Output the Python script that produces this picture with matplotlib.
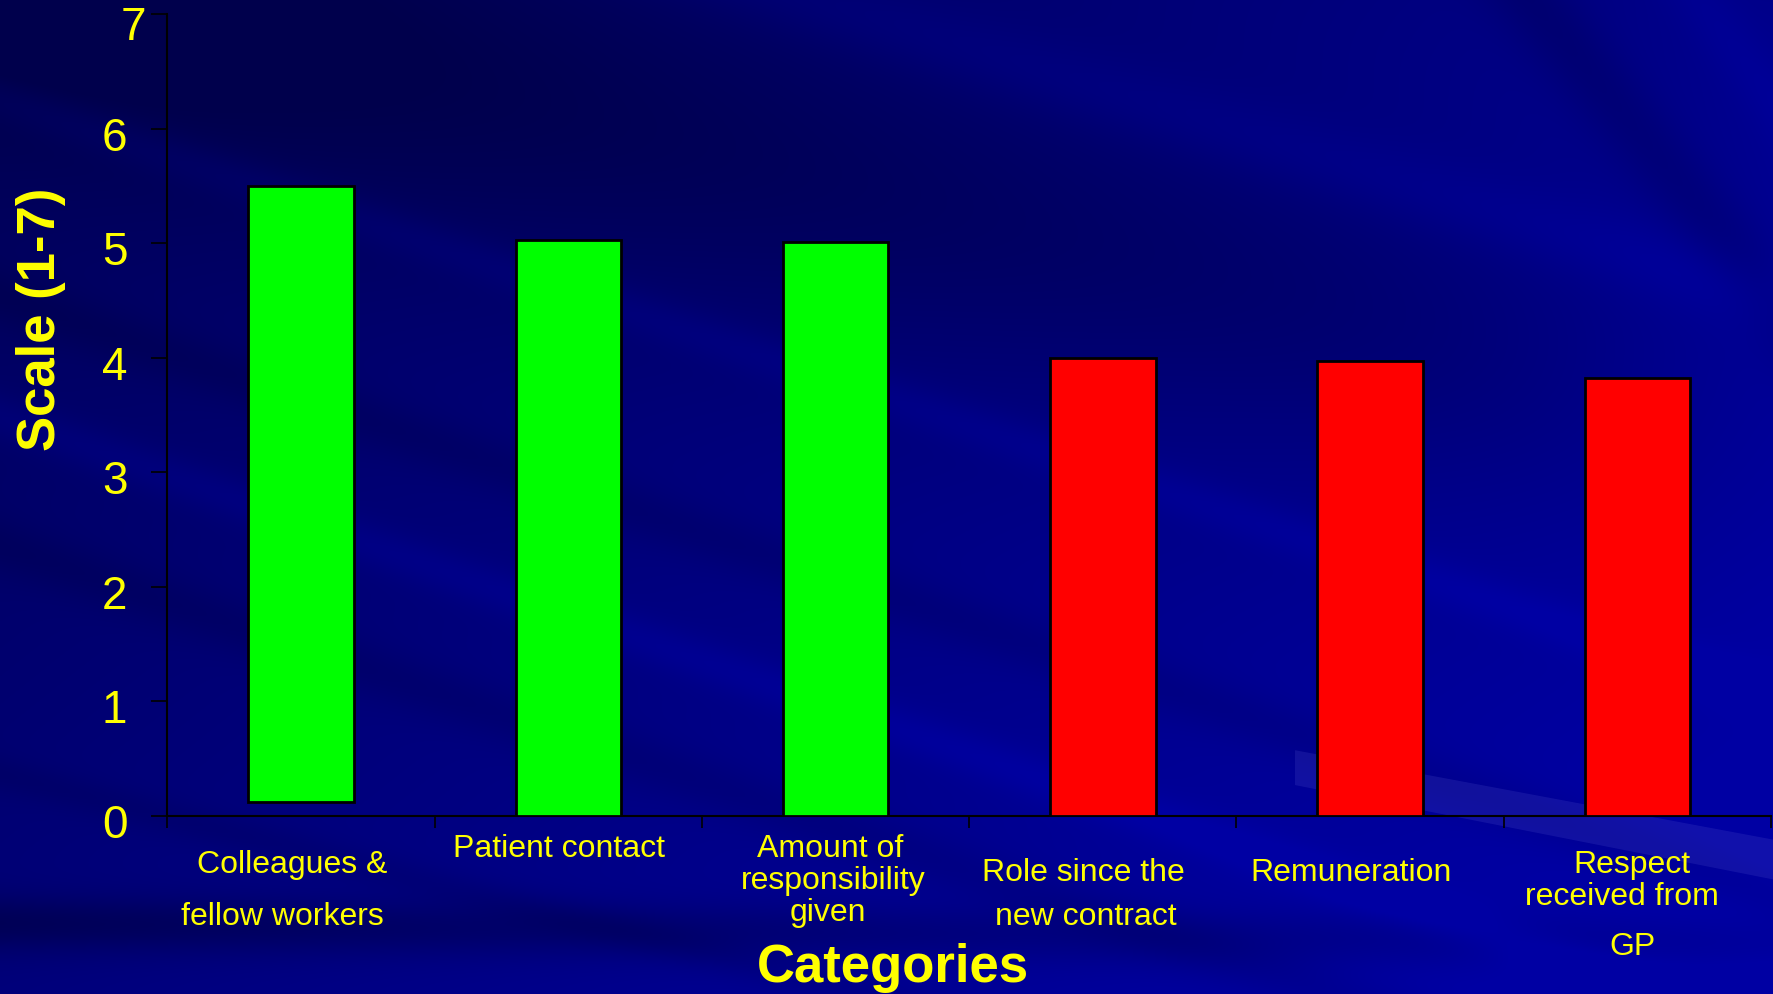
import numpy as np
import matplotlib
matplotlib.use("Agg")
import matplotlib.pyplot as plt
from matplotlib.patches import Polygon
from matplotlib.transforms import ScaledTranslation

# ---- data -------------------------------------------------------------
categories = [
    "Colleagues &\nfellow workers",
    "Patient contact",
    "Amount of\nresponsibility\ngiven",
    "Role since the\nnew contract",
    "Remuneration",
    "Respect\nreceived from\nGP",
]
bar_tops = [5.50, 5.03, 5.01, 4.00, 3.97, 3.82]
bar_bases = [0.12, 0.0, 0.0, 0.0, 0.0, 0.0]
bar_colors = ["#00ff00", "#00ff00", "#00ff00", "#ff0000", "#ff0000", "#ff0000"]
y_ticks = [0, 1, 2, 3, 4, 5, 6, 7]

# ---- layout -----------------------------------------------------------
W, H, DPI = 1774, 995, 100
YELLOW = "#ffff00"
FONT = ["Liberation Sans", "DejaVu Sans"]
PX2PT = 72.0 / DPI

# per-line (dx, dy) pixel offsets of category labels below the x axis
label_line_offsets = [
    [(-9, 48), (-19, 100)],
    [(-9, 32)],
    [(-5, 32), (-2, 64), (-8, 96)],
    [(-19, 56), (-17, 100)],
    [(-19, 56)],
    [(-5, 48), (-15, 80), (-5, 130)],
]

fig = plt.figure(figsize=(W / DPI, H / DPI), dpi=DPI)

# ---- blue slide background ---------------------------------------------
bg = fig.add_axes([0, 0, 1, 1], zorder=-10)
ny, nx = 500, 880
v, u = np.mgrid[0:1:ny * 1j, 0:1:nx * 1j]
blue = 0.34 + 0.20 * u + 0.14 * v
# dark sweep across the upper middle, fading out to the right
fade = 1.0 / (1.0 + np.exp((u - 0.9) / 0.05))
blue -= 0.10 * np.exp(-((v - 0.45 * u + 0.02) / 0.16) ** 2) * fade
# diagonal streaks (lighter and darker bands)
for a, slope, s, amp in [(0.10, 0.60, 0.025, 0.05), (0.30, 0.60, 0.03, -0.05),
                         (0.42, 0.62, 0.025, 0.06), (0.55, 0.60, 0.03, -0.05),
                         (-0.25, 0.55, 0.04, 0.05), (0.78, 0.45, 0.02, -0.04),
                         (-1.9, 2.2, 0.06, -0.07), (-2.3, 2.4, 0.05, 0.04)]:
    blue += amp * np.exp(-((v - slope * u - a) / s) ** 2)
# darker band near the bottom edge
blue -= 0.13 * np.exp(-((v - 0.93 - 0.02 * u) / 0.028) ** 2) * (1.0 - 0.6 * u)
blue = np.clip(blue, 0.30, 0.64)
img = np.dstack([np.zeros_like(blue), np.zeros_like(blue), blue])
bg.imshow(img, aspect="auto", extent=[0, 1, 0, 1], origin="upper", interpolation="bilinear")
# pale streak in the lower right
bg.add_patch(Polygon([[0.73, 1 - 0.755], [1.0, 1 - 0.845], [1.0, 1 - 0.885], [0.73, 1 - 0.79]],
                     closed=True, facecolor="#5a5ad0", alpha=0.20, lw=0))
bg.set_xlim(0, 1)
bg.set_ylim(0, 1)
bg.axis("off")

# ---- chart axes ----------------------------------------------------------
x0, x1 = 167.5, 1771.0
y0, y1 = 817.0, 15.0
ax = fig.add_axes([x0 / W, 1 - y0 / H, (x1 - x0) / W, (y0 - y1) / H])
ax.patch.set_alpha(0)

x = np.arange(len(categories))
heights = [t - b for t, b in zip(bar_tops, bar_bases)]
ax.bar(x, heights, bottom=bar_bases, width=0.395, color=bar_colors,
       edgecolor="black", linewidth=2.0, zorder=3)

ax.set_xlim(-0.5, len(categories) - 0.5)
ax.set_ylim(0, 7)

for side in ("top", "right"):
    ax.spines[side].set_visible(False)
for side in ("left", "bottom"):
    ax.spines[side].set_color("black")
    ax.spines[side].set_linewidth(1.5)

ax.set_yticks(y_ticks)
ax.set_yticklabels([str(t) for t in y_ticks])
ax.tick_params(axis="y", direction="out", length=16 * PX2PT, width=1.2,
               color="black", pad=24 * PX2PT, labelsize=33, labelcolor=YELLOW)
shift_down = ScaledTranslation(0, -4 / DPI, fig.dpi_scale_trans)
top_extra = ScaledTranslation(19 / DPI, -4 / DPI, fig.dpi_scale_trans)
ylabels = ax.get_yticklabels()
for lab in ylabels:
    lab.set_family(FONT)
    lab.set_transform(lab.get_transform() + shift_down)
# the top label sits a little further right and lower
ylabels[-1].set_transform(ylabels[-1].get_transform() + top_extra)

ax.set_xticks(x)
ax.set_xticklabels([])
ax.tick_params(axis="x", which="major", length=0)
ax.set_xticks(np.arange(-0.5, len(categories)), minor=True)
ax.tick_params(axis="x", which="minor", direction="out", length=12 * PX2PT,
               width=1.2, color="black")

# category labels, one text per line
for i, (label, offs) in enumerate(zip(categories, label_line_offsets)):
    for line, (dx, dy) in zip(label.split("\n"), offs):
        ax.annotate(line, xy=(i, 0), xycoords=("data", "axes fraction"),
                    xytext=(dx * PX2PT, -dy * PX2PT), textcoords="offset points",
                    ha="center", va="center", color=YELLOW, fontsize=23,
                    family=FONT, annotation_clip=False)

# axis titles
fig.text(41 / W, 1 - 319 / H, "Scale (1-7)", rotation=90, ha="center", va="center",
         color=YELLOW, fontsize=38, fontweight="bold", family=FONT)
fig.text(893 / W, 1 - 982 / H, "Categories", ha="center", va="baseline",
         color=YELLOW, fontsize=38, fontweight="bold", family=FONT)

fig.savefig("out.png", dpi=DPI)
